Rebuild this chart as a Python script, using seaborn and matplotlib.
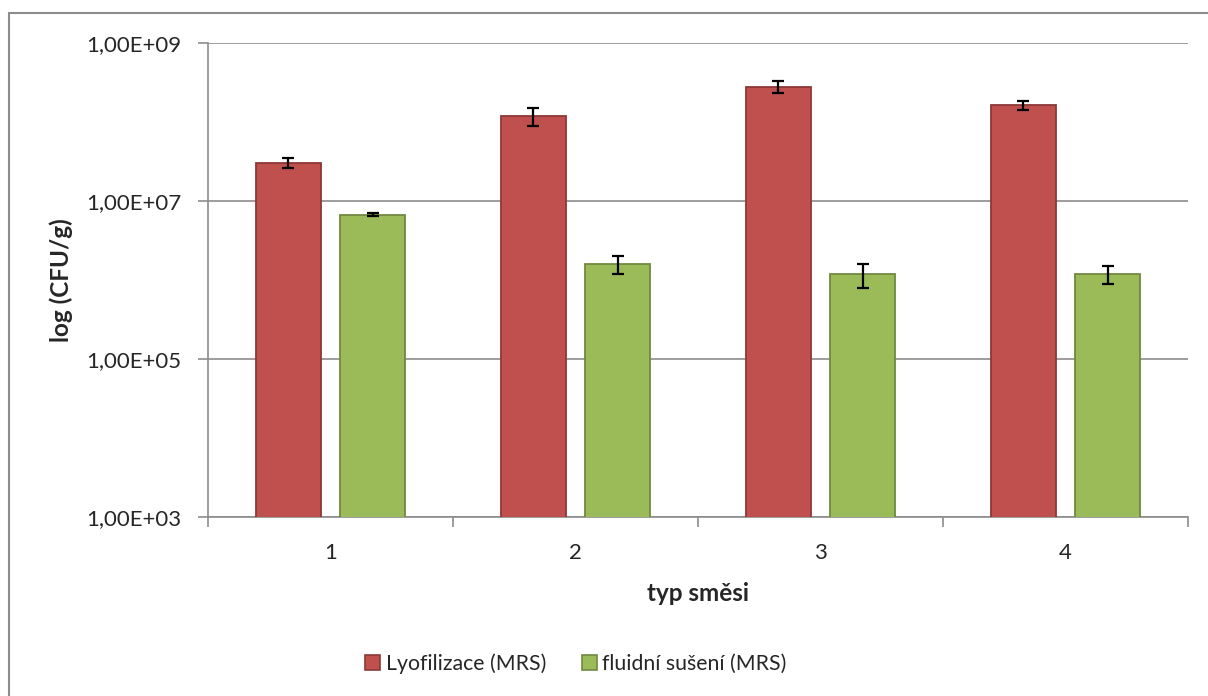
import matplotlib
matplotlib.use("Agg")
import matplotlib.pyplot as plt
from matplotlib.lines import Line2D
from matplotlib.patches import Patch
from matplotlib.ticker import FixedLocator, FuncFormatter, NullLocator
import seaborn as sns
import pandas as pd

# Viable counts per mixture type
mixes = ["1", "2", "3", "4"]
series_names = ["Lyofilizace (MRS)", "fluidní sušení (MRS)"]
lyo_values = [3.05e7, 1.20e8, 2.80e8, 1.64e8]
lyo_errors = [4.5e6, 3.0e7, 5.0e7, 2.2e7]
fluid_values = [6.7e6, 1.6e6, 1.2e6, 1.2e6]
fluid_errors = [3.0e5, 4.0e5, 4.0e5, 3.0e5]
y_ticks = [1e3, 1e5, 1e7, 1e9]

colors = ["#C0504D", "#9BBB59"]
edges = ["#8C3836", "#71893F"]
grid_gray = "#8C8C8C"

df = pd.DataFrame({
    "mix": mixes * 2,
    "series": [series_names[0]] * 4 + [series_names[1]] * 4,
    "cfu": lyo_values + fluid_values,
})

sns.set_theme(style="white")
plt.rcParams["font.family"] = ["Lato", "DejaVu Sans"]

W, H = 1208, 696
fig = plt.figure(figsize=(W / 100, H / 100), dpi=100)
ax_left, ax_right, ax_top, ax_bottom = 208, 1188, 43, 517
ax_h = ax_bottom - ax_top
ax = fig.add_axes([ax_left / W, 1 - ax_bottom / H, (ax_right - ax_left) / W, ax_h / H])

ax.set_yscale("log")
sns.barplot(data=df, x="mix", y="cfu", hue="series", order=mixes,
            hue_order=series_names, palette=colors, saturation=1,
            width=0.686, gap=0.227, errorbar=None, legend=False, ax=ax, zorder=3)

for container, edge, errs in zip(ax.containers, edges, [lyo_errors, fluid_errors]):
    xs, ys = [], []
    for bar in container:
        bar.set_edgecolor(edge)
        bar.set_linewidth(1.3)
        xs.append(bar.get_x() + bar.get_width() / 2)
        ys.append(bar.get_y() + bar.get_height())
    ax.errorbar(xs, ys, yerr=errs, fmt="none", ecolor="black",
                elinewidth=1.6, capsize=4.4, capthick=1.6, zorder=4)

ax.set_ylim(1e3, 1e9)
ax.set_xlim(-0.5, 3.5)
ax.yaxis.set_major_locator(FixedLocator(y_ticks))
ax.yaxis.set_minor_locator(NullLocator())
ax.yaxis.set_major_formatter(FuncFormatter(lambda v, _: ("%.2E" % v).replace(".", ",")))
ax.grid(axis="y", color=grid_gray, linewidth=1.2, zorder=0)
ax.set_axisbelow(True)

for side in ["top", "right"]:
    ax.spines[side].set_visible(False)
for side in ["left", "bottom"]:
    ax.spines[side].set_color(grid_gray)
    ax.spines[side].set_linewidth(1.2)

ax.tick_params(axis="y", which="major", direction="out", length=7, width=1.2,
               color=grid_gray, labelsize=16, pad=12, left=True)
ax.set_xticks(range(len(mixes)))
ax.set_xticklabels(mixes)
ax.set_xticks([-0.5, 0.5, 1.5, 2.5, 3.5], minor=True)
ax.tick_params(axis="x", which="major", length=0, labelsize=16, pad=19)
ax.tick_params(axis="x", which="minor", direction="out", length=7, width=1.2,
               color=grid_gray, bottom=True)

ax.set_xlabel("typ směsi", fontsize=17.5, fontweight="bold")
ax.xaxis.label.set_va("baseline")
ax.xaxis.set_label_coords(0.5, -(601 - ax_bottom) / ax_h)
ax.set_ylabel("log (CFU/g)", fontsize=17.5, fontweight="bold")
ax.yaxis.label.set_va("center")
ax.yaxis.set_label_coords((61 - ax_left) / (ax_right - ax_left), 0.5)

handles = [Patch(facecolor=c, edgecolor=e, linewidth=1.2) for c, e in zip(colors, edges)]
fig.legend(handles, series_names, loc="center", bbox_to_anchor=(576 / W, 1 - 664 / H),
           ncol=2, frameon=False, fontsize=15.3, handlelength=0.7, handleheight=0.7,
           handletextpad=0.25, columnspacing=1.7, borderpad=0)

# chart frame
fig.add_artist(Line2D([9 / W, 1.0], [1 - 13 / H, 1 - 13 / H], color=grid_gray, linewidth=1.5))
fig.add_artist(Line2D([9 / W, 9 / W], [0.0, 1 - 13 / H], color=grid_gray, linewidth=1.5))

fig.savefig("out.png", dpi=100)
